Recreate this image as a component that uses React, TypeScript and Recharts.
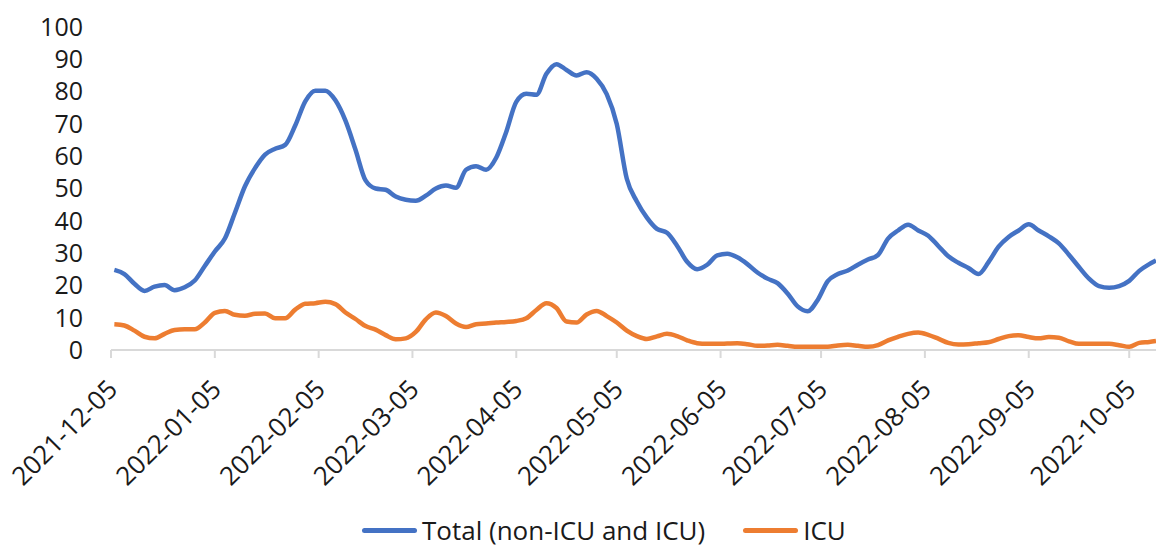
import React from 'react';
import { LineChart, Line, XAxis, YAxis, Legend } from 'recharts';

const dates: string[] = [
  '2021-12-06','2021-12-09','2021-12-12','2021-12-15','2021-12-18','2021-12-21','2021-12-24','2021-12-27','2021-12-30',
  '2022-01-02','2022-01-05','2022-01-08','2022-01-11','2022-01-14','2022-01-17','2022-01-20','2022-01-23','2022-01-26','2022-01-29',
  '2022-02-01','2022-02-04','2022-02-07','2022-02-10','2022-02-13','2022-02-16','2022-02-19','2022-02-22','2022-02-25','2022-02-28',
  '2022-03-03','2022-03-06','2022-03-09','2022-03-12','2022-03-15','2022-03-18','2022-03-21','2022-03-24','2022-03-27','2022-03-30',
  '2022-04-02','2022-04-05','2022-04-08','2022-04-11','2022-04-14','2022-04-17','2022-04-20','2022-04-23','2022-04-26','2022-04-29',
  '2022-05-02','2022-05-05','2022-05-08','2022-05-11','2022-05-14','2022-05-17','2022-05-20','2022-05-23','2022-05-26','2022-05-29',
  '2022-06-01','2022-06-04','2022-06-07','2022-06-10','2022-06-13','2022-06-16','2022-06-19','2022-06-22','2022-06-25','2022-06-28',
  '2022-07-01','2022-07-04','2022-07-07','2022-07-10','2022-07-13','2022-07-16','2022-07-19','2022-07-22','2022-07-25','2022-07-28','2022-07-31',
  '2022-08-03','2022-08-06','2022-08-09','2022-08-12','2022-08-15','2022-08-18','2022-08-21','2022-08-24','2022-08-27','2022-08-30',
  '2022-09-02','2022-09-05','2022-09-08','2022-09-11','2022-09-14','2022-09-17','2022-09-20','2022-09-23','2022-09-26','2022-09-29',
  '2022-10-02','2022-10-05','2022-10-08','2022-10-11','2022-10-13',
];

const total: number[] = [
  24.8, 23.5, 20.5, 18.3, 19.6, 20.1, 18.5, 19.4, 21.5,
  26, 30.5, 34.5, 42.5, 50.7, 56.3, 60.5, 62.3, 63.5, 69.5,
  77, 80.3, 80.3, 77.3, 71, 62, 52.5, 50, 49.6, 47.5,
  46.5, 46.2, 47.8, 50, 50.9, 50.2, 55.8, 56.9, 55.8, 59.5,
  67.5, 76.8, 79.3, 79, 85.5, 88.5, 86.7, 85, 86, 84,
  79.2, 70, 53, 46, 41, 37.5, 36.3, 32.3, 27.3, 25,
  26.4, 29.3, 29.8, 28.7, 26.6, 24, 22.1, 20.7, 17.5, 13.5,
  12, 15.5, 21.3, 23.5, 24.6, 26.4, 28, 29.4, 34.5, 37, 38.8,
  37, 35.4, 32.2, 29, 27, 25.4, 23.5, 27.2, 32, 35,
  37, 38.9, 37, 35.2, 33, 29.5, 25.7, 22.1, 19.8, 19.3,
  19.8, 21.4, 24.5, 26.6, 27.7,
];

const icu: number[] = [
  8, 7.6, 6, 4.1, 3.6, 5, 6.2, 6.4, 6.4,
  8.5, 11.5, 12.1, 10.9, 10.6, 11.2, 11.3, 9.8, 9.8, 12.5,
  14.3, 14.5, 14.9, 14.2, 11.6, 9.6, 7.4, 6.3, 4.6, 3.3,
  3.6, 5.6, 9.5, 11.6, 10.5, 8.2, 7.1, 8, 8.2, 8.5,
  8.7, 9, 9.8, 12.4, 14.5, 13, 8.8, 8.5, 11, 12.1,
  10.5, 8.5, 6, 4.3, 3.4, 4.2, 5, 4.3, 3, 2.1,
  1.9, 1.9, 2, 2.1, 1.8, 1.3, 1.4, 1.6, 1.3, 1,
  1, 1, 1, 1.4, 1.6, 1.3, 1, 1.5, 3, 4.1, 5,
  5.4, 4.7, 3.5, 2.2, 1.7, 1.8, 2.1, 2.4, 3.4, 4.3,
  4.6, 4, 3.6, 4, 3.8, 2.7, 1.9, 1.9, 1.9, 1.9,
  1.5, 1, 2.2, 2.5, 2.8,
];

const tickLabels: string[] = [
  '2021-12-05','2022-01-05','2022-02-05','2022-03-05','2022-04-05','2022-05-05',
  '2022-06-05','2022-07-05','2022-08-05','2022-09-05','2022-10-05',
];
const yTicks: number[] = [0, 10, 20, 30, 40, 50, 60, 70, 80, 90, 100];
const lastDate = '2022-10-13';

const seriesNames = ['Total (non-ICU and ICU)', 'ICU'];
const colors = ['#4472C4', '#ED7D31'];

const toUtc = (s: string) => {
  const [y, m, d] = s.split('-').map(Number);
  return Date.UTC(y, m - 1, d);
};
const origin = toUtc(tickLabels[0]);
const dayOf = (s: string) => Math.round((toUtc(s) - origin) / 86400000);
const labelOf = (day: number) => new Date(origin + day * 86400000).toISOString().slice(0, 10);

const data = dates.map((d, i) => ({ day: dayOf(d), total: total[i], icu: icu[i] }));
const xTicks = tickLabels.map(dayOf);

const FONT = '"Open Sans", sans-serif';
const FS = 26;

const XTick = (props: any) => {
  const { x, y, payload } = props;
  const ax = x + 8;
  const ay = y + 31;
  return (
    <text
      x={ax}
      y={ay}
      transform={`rotate(-45, ${ax}, ${ay})`}
      textAnchor="end"
      fontFamily={FONT}
      fontSize={FS}
      fill="#1a1a1a"
    >
      {labelOf(payload.value)}
    </text>
  );
};

const LegendContent = () => (
  <div style={{ display: 'flex', justifyContent: 'flex-start', alignItems: 'center', height: 30, paddingLeft: 362, fontFamily: FONT, fontSize: FS, lineHeight: '30px', color: '#1a1a1a', overflow: 'visible' }}>
    {seriesNames.map((n, i) => (
      <div key={n} style={{ display: 'flex', alignItems: 'center', marginLeft: i === 0 ? 0 : 38 }}>
        <div style={{ width: 55, height: 5, borderRadius: 3, background: colors[i], marginRight: 5 }} />
        <span style={{ whiteSpace: 'nowrap' }}>{n}</span>
      </div>
    ))}
  </div>
);

export default function App() {
  return (
    <div style={{ position: 'absolute', left: 0, top: 0, width: 1156, height: 548, background: '#fff' }}>
      <LineChart width={1156} height={548} data={data} margin={{ top: 27, right: 0, bottom: 48, left: 0 }}>
        <XAxis
          dataKey="day"
          type="number"
          domain={[0, dayOf(lastDate)]}
          ticks={xTicks}
          interval={0}
          height={120}
          tick={<XTick />}
          tickSize={8}
          stroke="#d9d9d9"
          strokeWidth={2}
          allowDataOverflow
        />
        <YAxis
          type="number"
          domain={[0, 100]}
          ticks={yTicks}
          interval={0}
          width={111}
          axisLine={false}
          tickLine={false}
          tickSize={0}
          tickMargin={28}
          tick={{ fontFamily: FONT, fontSize: 25, fill: '#1a1a1a' }}
        />
        <Legend
          verticalAlign="bottom"
          content={<LegendContent />}
          wrapperStyle={{ position: 'absolute', top: 515, bottom: 'auto', left: 0, width: 1156, height: 30, overflow: 'visible' }}
        />
        <Line type="monotone" dataKey="total" name={seriesNames[0]} stroke={colors[0]} strokeWidth={4.5} dot={false} isAnimationActive={false} />
        <Line type="monotone" dataKey="icu" name={seriesNames[1]} stroke={colors[1]} strokeWidth={4.5} dot={false} isAnimationActive={false} />
      </LineChart>
    </div>
  );
}
